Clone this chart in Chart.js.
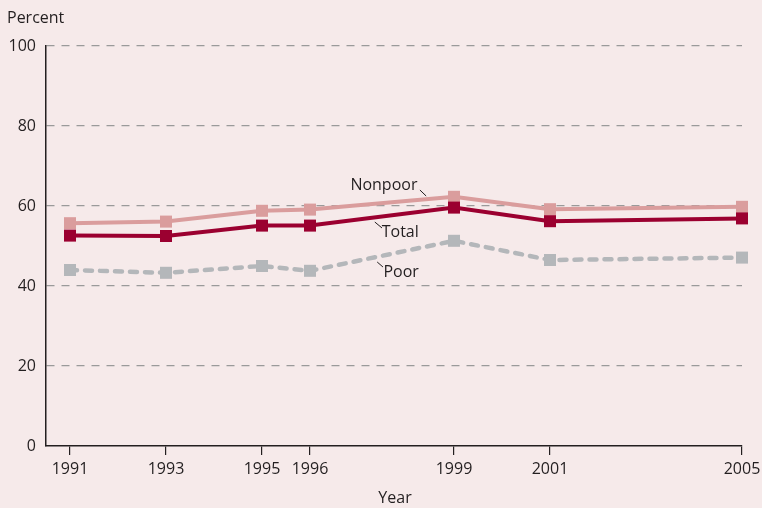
<!DOCTYPE html>
<html>
<head>
<meta charset="utf-8">
<script src="https://cdn.jsdelivr.net/npm/chart.js@4.4.0/dist/chart.umd.min.js"></script>
<style>
    html, body { margin: 0; padding: 0; background: #f6eaea; }
    #wrap { width: 762px; height: 508px; }
</style>
</head>
<body>
<div id="wrap"><canvas id="lineChart" width="762" height="508"></canvas></div>
<script>
var years = [1991, 1993, 1995, 1996, 1999, 2001, 2005];
var nonpoor = [55.7, 56.1, 58.8, 59.1, 62.3, 59.2, 59.8];
var total = [52.6, 52.5, 55.1, 55.1, 59.6, 56.2, 56.9];
var poor = [44.0, 43.3, 45.0, 43.8, 51.3, 46.5, 47.1];
var yTicks = [0, 20, 40, 60, 80, 100];

// line labels in data units (year, percent), with a short leader line
var noteText = ['Nonpoor', 'Total', 'Poor'];
var noteAt = [[1997.54, 65.25], [1997.88, 53.5], [1997.9, 43.5]];
var leaderFrom = [[1998.29, 64.0], [1997.35, 56.0], [1997.4, 46.0]];
var leaderTo = [[1998.42, 62.5], [1997.5, 54.5], [1997.52, 44.75]];

var FONT = '"Open Sans", "Noto Sans", sans-serif';
var INK = '#231f20';

function points(vals) {
    return years.map(function (y, i) { return {x: y, y: vals[i]}; });
}

var notesPlugin = {
    id: 'notes',
    beforeDraw: function (chart) {
        var ctx = chart.ctx;
        ctx.save();
        ctx.fillStyle = '#f6eaea';
        ctx.fillRect(0, 0, chart.width, chart.height);
        ctx.restore();
    },
    afterDraw: function (chart) {
        var ctx = chart.ctx, xs = chart.scales.x, ys = chart.scales.y;
        ctx.save();
        ctx.font = '16px ' + FONT;
        ctx.fillStyle = INK;
        ctx.strokeStyle = INK;
        ctx.lineWidth = 1;
        ctx.textBaseline = 'middle';
        ctx.textAlign = 'center';
        for (var i = 0; i < noteText.length; i++) {
            ctx.fillText(noteText[i], xs.getPixelForValue(noteAt[i][0]), ys.getPixelForValue(noteAt[i][1]));
            ctx.beginPath();
            ctx.moveTo(xs.getPixelForValue(leaderFrom[i][0]), ys.getPixelForValue(leaderFrom[i][1]));
            ctx.lineTo(xs.getPixelForValue(leaderTo[i][0]), ys.getPixelForValue(leaderTo[i][1]));
            ctx.stroke();
        }
        // axis titles
        ctx.textAlign = 'left';
        ctx.fillText('Percent', 7, 18);
        ctx.textAlign = 'center';
        ctx.fillText('Year', 395, 498);
        ctx.restore();
    }
};

var lineChart = new Chart(document.getElementById('lineChart'), {
    type: 'line',
    data: {
        datasets: [
            {
                label: 'Total',
                data: points(total),
                borderColor: '#9b0030',
                backgroundColor: '#9b0030',
                pointBackgroundColor: '#9b0030',
                borderWidth: 4,
                pointStyle: 'rect',
                pointRadius: 8.5,
                pointBorderWidth: 0,
                tension: 0,
                clip: false
            },
            {
                label: 'Nonpoor',
                data: points(nonpoor),
                borderColor: '#da9d9d',
                backgroundColor: '#da9d9d',
                pointBackgroundColor: '#da9d9d',
                borderWidth: 4,
                pointStyle: 'rect',
                pointRadius: 8.5,
                pointBorderWidth: 0,
                tension: 0,
                clip: false
            },
            {
                label: 'Poor',
                data: points(poor),
                borderColor: '#b4b7ba',
                backgroundColor: '#b4b7ba',
                pointBackgroundColor: '#b4b7ba',
                borderWidth: 4.5,
                borderDash: [7, 8],
                borderCapStyle: 'round',
                pointStyle: 'rect',
                pointRadius: 8.5,
                pointBorderWidth: 0,
                tension: 0,
                clip: false
            }
        ]
    },
    options: {
        responsive: false,
        animation: false,
        devicePixelRatio: 1,
        layout: {padding: {top: 46, right: 20, left: 0, bottom: 0}},
        plugins: {
            legend: {display: false},
            tooltip: {enabled: false}
        },
        scales: {
            x: {
                type: 'linear',
                min: 1990.5,
                max: 2005,
                afterBuildTicks: function (scale) {
                    scale.ticks = years.map(function (v) { return {value: v}; });
                },
                afterFit: function (scale) {
                    scale.height = 62;
                    scale.paddingLeft = 0;
                    scale.paddingRight = 0;
                },
                ticks: {
                    autoSkip: false,
                    maxRotation: 0,
                    padding: 5,
                    color: INK,
                    font: {family: FONT, size: 16},
                    callback: function (v) { return String(v); }
                },
                grid: {
                    drawOnChartArea: false,
                    drawTicks: true,
                    tickLength: 9,
                    color: INK,
                    lineWidth: 1.2
                },
                border: {display: true, color: INK, width: 1.5}
            },
            y: {
                min: 0,
                max: 100,
                afterBuildTicks: function (scale) {
                    scale.ticks = yTicks.map(function (v) { return {value: v}; });
                },
                afterFit: function (scale) { scale.width = 46; },
                ticks: {
                    padding: 10,
                    color: INK,
                    font: {family: FONT, size: 16}
                },
                grid: {
                    drawTicks: false,
                    lineWidth: 1.2,
                    color: function (c) {
                        return c.tick && c.tick.value === 0 ? 'rgba(0,0,0,0)' : '#9a9a9a';
                    }
                },
                border: {display: true, color: INK, width: 1.5, dash: [8, 7]}
            }
        }
    },
    plugins: [notesPlugin]
});
</script>
</body>
</html>
